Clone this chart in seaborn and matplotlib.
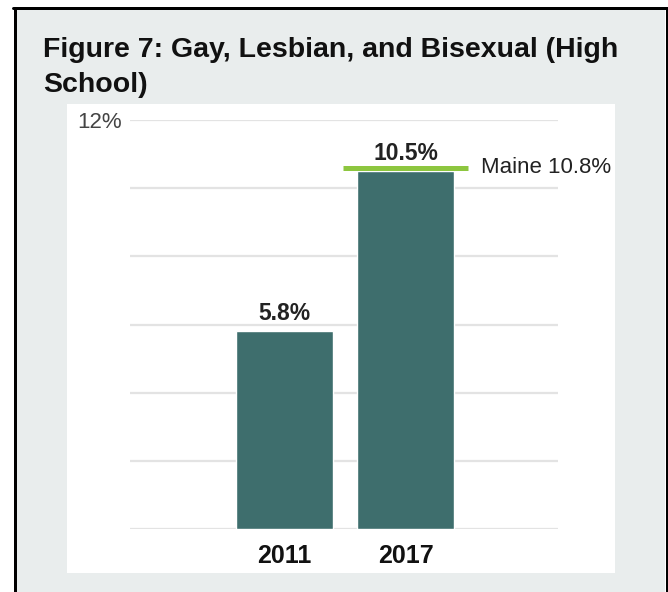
import matplotlib
matplotlib.use("Agg")
import matplotlib.pyplot as plt
from matplotlib.patches import Rectangle
from matplotlib.lines import Line2D
import matplotlib.transforms as mtransforms
import seaborn as sns
import pandas as pd

years = ["2011", "2017"]
values = [5.8, 10.5]
value_labels = ["5.8%", "10.5%"]
maine_value = 10.8
maine_label = "Maine 10.8%"
y_ticks = [0, 2, 4, 6, 8, 10, 12]
y_tick_labels = ["", "", "", "", "", "", "12%"]
title_lines = ["Figure 7: Gay, Lesbian, and Bisexual (High", "School)"]

sns.set_theme(style="white")
plt.rcParams["font.family"] = ["Liberation Sans", "DejaVu Sans"]

W, H = 668, 592
fig = plt.figure(figsize=(W / 100, H / 100), dpi=100, facecolor="white")

def fx(px):
    return px / W

def fy(py):
    return 1 - py / H

# gray card background
fig.patches.append(Rectangle((fx(16), 0), fx(665) - fx(16), fy(9), transform=fig.transFigure,
                             facecolor="#e9eded", edgecolor="none", zorder=0))
# white chart panel
fig.patches.append(Rectangle((fx(67), fy(573)), fx(615) - fx(67), fy(104) - fy(573),
                             transform=fig.transFigure, facecolor="white", edgecolor="none", zorder=0.5))
# black border (left, top, right)
lw = 3 * 72 / 100
fig.lines.append(Line2D([fx(14.5), fx(14.5)], [0, fy(7.5)], transform=fig.transFigure, color="black", lw=lw, zorder=1))
fig.lines.append(Line2D([fx(13), fx(668)], [fy(7.5), fy(7.5)], transform=fig.transFigure, color="black", lw=lw, zorder=1))
fig.lines.append(Line2D([fx(666.5), fx(666.5)], [0, fy(7.5)], transform=fig.transFigure, color="black", lw=lw, zorder=1))

# title
fig.text(fx(43), fy(57), title_lines[0], fontsize=20.5, fontweight="bold", color="#111111", va="baseline", ha="left")
fig.text(fx(43), fy(92), title_lines[1], fontsize=20.5, fontweight="bold", color="#111111", va="baseline", ha="left")

ax = fig.add_axes([fx(130), fy(529), fx(558) - fx(130), fy(120) - fy(529)])
ax.set_facecolor("none")
ax.set_zorder(2)

df = pd.DataFrame({"year": years, "value": values})
sns.barplot(data=df, x="year", y="value", color="#3e6e6d", saturation=1, width=0.8, ax=ax, zorder=3)

ax.set_ylim(0, 12)
ax.set_xlim(-1.277, 2.26)
ax.set_yticks(y_ticks)
ax.set_yticklabels(y_tick_labels, fontsize=16, color="#444444")
ax.grid(axis="y", color="#e3e3e3", lw=1.6)
ax.set_axisbelow(True)
ax.tick_params(axis="y", length=0, pad=5.5)
ax.tick_params(axis="x", length=0, pad=10.5)
for lab in ax.get_xticklabels():
    lab.set_fontweight("bold")
    lab.set_fontsize(18)
    lab.set_color("#111111")
for s in ax.spines.values():
    s.set_visible(False)
ax.set_xlabel("")
ax.set_ylabel("")

# value labels
for i, (v, t) in enumerate(zip(values, value_labels)):
    ax.annotate(t, (i, v), xytext=(0, 8), textcoords="offset points", ha="center", va="baseline",
                fontsize=16.5, fontweight="bold", color="#222222", zorder=5)

# Maine reference marker, drawn sitting on top of the 2017 bar as in the original
marker_tr = ax.transData + mtransforms.ScaledTranslation(0, -7 / 100, fig.dpi_scale_trans)
ax.plot([1 - 0.517, 1 + 0.517], [maine_value, maine_value], color="#8dc63f", lw=5 * 72 / 100,
        solid_capstyle="butt", zorder=4, transform=marker_tr)
ax.annotate(maine_label, (1 + 0.517, maine_value), xycoords=marker_tr, xytext=(9, 0),
            textcoords="offset points", ha="left", va="center", fontsize=16, color="#222222",
            zorder=5, annotation_clip=False)

fig.savefig("out.png", dpi=100, facecolor="white")
